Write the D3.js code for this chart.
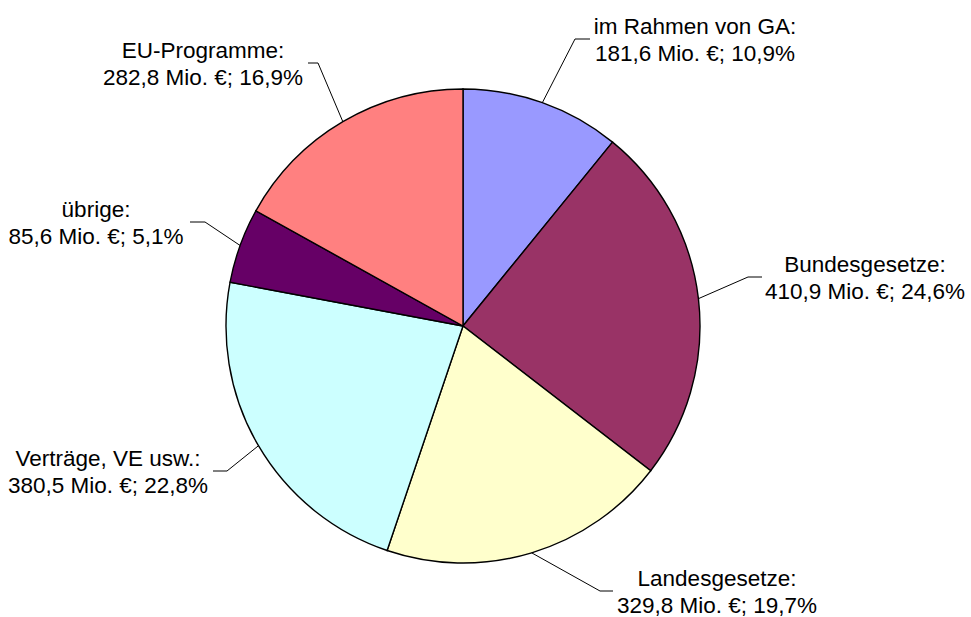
<!DOCTYPE html>
<html>
<head>
<meta charset="utf-8">
<script src="https://cdn.jsdelivr.net/npm/d3@7"></script>
<style>
  body { margin: 0; background: #fff; }
  svg { display: block; }
</style>
</head>
<body>
<script>
// values in Mio. €, clockwise from 12 o'clock
const categories = ["im Rahmen von GA", "Bundesgesetze", "Landesgesetze", "Verträge, VE usw.", "übrige", "EU-Programme"];
const amounts = [181.6, 410.9, 329.8, 380.5, 85.6, 282.8];
const shares = ["10,9%", "24,6%", "19,7%", "22,8%", "5,1%", "16,9%"];
const amountLabels = ["181,6", "410,9", "329,8", "380,5", "85,6", "282,8"];
const colors = ["#9999FF", "#993366", "#FFFFCC", "#CCFFFF", "#660066", "#FF8080"];

const width = 971, height = 617;
const cx = 463, cy = 326, r = 237;
const fontSize = 22.5;

// label placement relative to pie centre: elbow of leader, end of leader, text centre x
const labelLayout = [
    { elbow: [112, -287], end: [127, -287], tx: 232 },
    { elbow: [285, -49],  end: [299, -49],  tx: 402 },
    { elbow: [137, 265],  end: [150, 265],  tx: 254 },
    { elbow: [-236, 145], end: [-250, 145], tx: -355 },
    { elbow: [-258, -104], end: [-273, -104], tx: -367 },
    { elbow: [-145, -263], end: [-155, -263], tx: -260 }
];

const svg = d3.select("body").append("svg")
    .attr("width", width)
    .attr("height", height);

const g = svg.append("g").attr("transform", `translate(${cx},${cy})`);

const pie = d3.pie().sort(null).value(d => d);
const arcs = pie(amounts);
const arc = d3.arc().innerRadius(0).outerRadius(r);

g.selectAll("path.slice")
    .data(arcs)
    .join("path")
    .attr("class", "slice")
    .attr("d", arc)
    .attr("fill", (d, i) => colors[i])
    .attr("stroke", "#000")
    .attr("stroke-width", 1.4);

// leader lines start on the rim at the slice's mid angle
g.selectAll("polyline.leader")
    .data(arcs)
    .join("polyline")
    .attr("class", "leader")
    .attr("fill", "none")
    .attr("stroke", "#000")
    .attr("stroke-width", 1)
    .attr("points", (d, i) => {
        const a = (d.startAngle + d.endAngle) / 2;
        const p0 = [Math.sin(a) * r, -Math.cos(a) * r];
        const L = labelLayout[i];
        return [p0, L.elbow, L.end].map(p => p.join(",")).join(" ");
    });

const labels = g.selectAll("text.lbl")
    .data(arcs)
    .join("text")
    .attr("class", "lbl")
    .attr("font-family", "'Liberation Sans', Arial, Helvetica, sans-serif")
    .attr("font-size", fontSize)
    .attr("fill", "#000")
    .attr("text-anchor", "middle");

labels.append("tspan")
    .attr("x", (d, i) => labelLayout[i].tx)
    .attr("y", (d, i) => labelLayout[i].end[1] - 5)
    .text((d, i) => categories[i] + ":");

labels.append("tspan")
    .attr("x", (d, i) => labelLayout[i].tx)
    .attr("y", (d, i) => labelLayout[i].end[1] + 21.5)
    .text((d, i) => `${amountLabels[i]} Mio. €; ${shares[i]}`);
</script>
</body>
</html>
